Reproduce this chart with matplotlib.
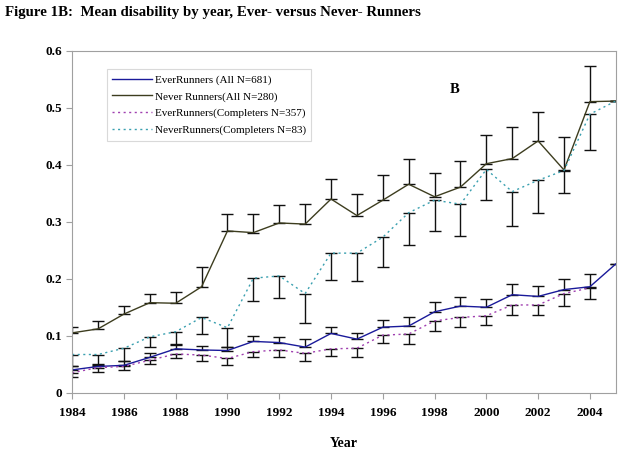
import matplotlib

matplotlib.use("Agg")
import matplotlib.pyplot as plt
import numpy as np

plt.rcParams["font.family"] = "Liberation Serif"

years = list(range(1984, 2006))

# mean disability, all subjects
ever_all = [0.040, 0.046, 0.048, 0.062, 0.077, 0.075, 0.074, 0.090, 0.088, 0.080, 0.104,
            0.094, 0.115, 0.117, 0.142, 0.152, 0.150, 0.172, 0.169, 0.181, 0.186, 0.226]
never_all = [0.105, 0.112, 0.138, 0.158, 0.157, 0.186, 0.284, 0.281, 0.298, 0.296, 0.340,
             0.311, 0.338, 0.366, 0.344, 0.361, 0.402, 0.411, 0.442, 0.391, 0.511, 0.512]
# completers only
ever_comp = [0.035, 0.044, 0.046, 0.057, 0.068, 0.066, 0.060, 0.072, 0.075, 0.069, 0.077,
             0.078, 0.101, 0.103, 0.126, 0.132, 0.135, 0.154, 0.154, 0.174, 0.184, np.nan]
never_comp = [0.067, 0.067, 0.078, 0.098, 0.107, 0.132, 0.114, 0.201, 0.205, 0.174, 0.245,
              0.245, 0.273, 0.316, 0.338, 0.331, 0.392, 0.353, 0.373, 0.390, 0.489, 0.512]

# one-sided error bars (upper for "all", lower for completers)
ever_all_err = [0.006, 0.004, 0.008, 0.007, 0.007, 0.007, 0.007, 0.010, 0.009, 0.014, 0.012,
                0.011, 0.013, 0.015, 0.017, 0.016, 0.015, 0.018, 0.018, 0.019, 0.022, 0]
never_all_err = [0.011, 0.013, 0.015, 0.015, 0.019, 0.035, 0.029, 0.032, 0.031, 0.035, 0.036,
                 0.038, 0.045, 0.045, 0.042, 0.046, 0.051, 0.056, 0.050, 0.058, 0.063, 0]
ever_comp_err = [0.007, 0.008, 0.007, 0.007, 0.007, 0.010, 0.011, 0.009, 0.012, 0.013, 0.013,
                 0.015, 0.013, 0.018, 0.017, 0.016, 0.017, 0.018, 0.018, 0.021, 0.019, 0]
never_comp_err = [0.020, 0.018, 0.022, 0.017, 0.022, 0.029, 0.033, 0.040, 0.038, 0.051, 0.048,
                  0.049, 0.053, 0.057, 0.054, 0.056, 0.053, 0.060, 0.057, 0.040, 0.063, 0]

labels = ["EverRunners (All N=681)", "Never Runners(All N=280)",
          "EverRunners(Completers N=357)", "NeverRunners(Completers N=83)"]


def main():
    fig = plt.figure(figsize=(6.22, 4.55), dpi=100)
    ax = fig.add_axes([0.116, 0.137, 0.874, 0.751])

    zeros = np.zeros(len(years))
    eb = dict(ecolor="#111111", elinewidth=1.0, capsize=4, capthick=1.0)

    ax.errorbar(years, ever_all, yerr=[zeros, ever_all_err], color="#1a1a9a", lw=1.0,
                label=labels[0], **eb)
    ax.errorbar(years, never_all, yerr=[zeros, never_all_err], color="#3d3d1f", lw=1.0,
                label=labels[1], **eb)
    ax.errorbar(years, ever_comp, yerr=[ever_comp_err, zeros], color="#a040b0", lw=1.0,
                ls=(0, (1.5, 2.5)), label=labels[2], **eb)
    ax.errorbar(years, never_comp, yerr=[never_comp_err, zeros], color="#3aa0b0", lw=1.0,
                ls=(0, (1.5, 2.5)), label=labels[3], **eb)

    ax.set_xlim(1984, 2005)
    ax.set_ylim(0, 0.6)
    ax.set_xticks(range(1984, 2005, 2))
    ax.set_yticks(np.arange(0, 0.61, 0.1))
    ax.set_yticklabels(["0", "0.1", "0.2", "0.3", "0.4", "0.5", "0.6"])
    for spine in ax.spines.values():
        spine.set_color("#a0a0a0")
    ax.tick_params(colors="#a0a0a0", length=4, labelcolor="black", labelsize=9.5)
    ax.tick_params(axis="x", pad=6)
    for t in ax.get_xticklabels() + ax.get_yticklabels():
        t.set_fontweight("bold")

    fig.text(0.552, 0.026, "Year", fontsize=10, fontweight="bold", ha="center", va="center")
    ax.text(0.704, 0.886, "B", transform=ax.transAxes, fontsize=10.5, fontweight="bold",
            ha="center", va="center")

    handles, labs = ax.get_legend_handles_labels()
    handles = [h[0] for h in handles]
    leg = ax.legend(handles, labs, loc="upper left", bbox_to_anchor=(0.064, 0.947),
                    fontsize=8, frameon=True, fancybox=False, handlelength=3.6,
                    handletextpad=0.2, borderpad=0.5, labelspacing=0.62, borderaxespad=0)
    leg.get_frame().set_edgecolor("#d0d0d0")
    leg.get_frame().set_linewidth(0.8)

    fig.text(0.008, 0.972, "Figure 1B:  Mean disability by year, Ever- versus Never- Runners",
             fontsize=10.7, fontweight="bold", va="center")

    fig.savefig("out.png", dpi=100)


if __name__ == "__main__":
    main()
